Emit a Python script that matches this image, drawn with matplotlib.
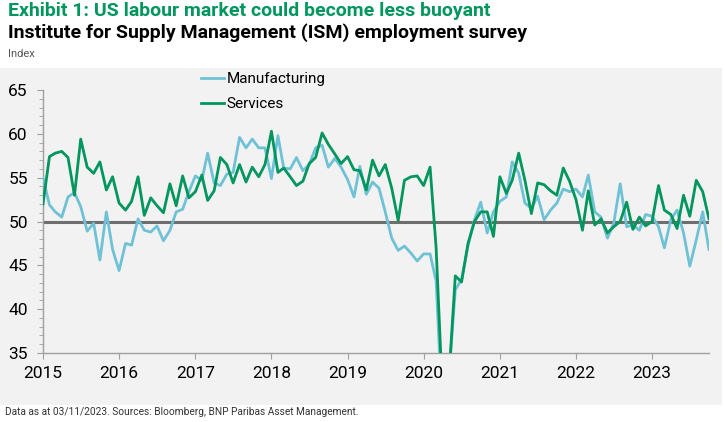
import numpy as np
import pandas as pd
import matplotlib.pyplot as plt
import matplotlib.dates as mdates
from matplotlib.patches import Rectangle
from matplotlib.ticker import MultipleLocator

plt.rcParams['font.family'] = ['Roboto', 'DejaVu Sans']

# Monthly ISM employment indices, Jan 2015 - Oct 2023
dates = pd.date_range('2015-01-01', periods=106, freq='MS')

manufacturing = [
    55.0, 51.9, 51.1, 50.5, 52.8, 53.3, 51.7, 48.9, 49.8, 45.6, 51.1, 46.8,
    44.4, 47.5, 47.3, 50.3, 49.0, 48.8, 49.5, 47.8, 49.0, 51.1, 51.4, 53.4,
    55.2, 54.7, 57.8, 54.4, 54.1, 55.4, 55.6, 59.6, 58.4, 59.4, 58.4, 58.4,
    54.9, 59.8, 56.1, 56.0, 57.3, 55.8, 56.5, 58.4, 58.7, 56.2, 57.2, 56.2,
    54.8, 52.8, 56.3, 53.1, 54.5, 53.8, 51.1, 48.1, 46.7, 47.2, 46.4, 45.5,
    46.3, 46.3, 43.2, 27.5, 32.1, 42.2, 43.4, 47.2, 50.2, 52.2, 48.7, 51.1,
    52.3, 52.8, 56.8, 55.5, 52.1, 51.5, 52.9, 50.2, 51.3, 52.1, 53.7, 53.4,
    53.7, 52.8, 55.3, 51.1, 50.5, 48.1, 49.8, 54.3, 49.4, 49.6, 49.0, 50.8,
    50.6, 49.4, 47.0, 50.2, 51.3, 48.7, 44.9, 47.9, 51.1, 46.8,
]

services = [
    52.0, 57.4, 57.8, 58.0, 57.3, 53.0, 59.4, 56.2, 55.5, 56.8, 53.6, 55.1,
    52.1, 51.3, 52.3, 55.1, 50.7, 52.7, 51.8, 51.0, 54.3, 51.8, 55.2, 52.7,
    53.4, 55.3, 52.4, 53.5, 57.3, 56.5, 54.4, 56.5, 54.5, 56.2, 55.1, 56.5,
    60.3, 55.6, 56.1, 55.1, 54.1, 54.6, 56.6, 57.3, 60.1, 58.8, 57.7, 56.6,
    57.4, 55.9, 55.8, 53.6, 57.0, 55.2, 56.5, 53.8, 50.1, 54.7, 55.1, 55.2,
    54.1, 56.2, 47.0, 30.0, 32.0, 43.8, 43.1, 47.5, 50.0, 51.1, 51.1, 48.3,
    55.1, 53.2, 54.7, 57.8, 54.7, 50.9, 54.4, 54.2, 53.5, 53.0, 56.1, 54.6,
    52.5, 49.0, 53.5, 49.6, 50.3, 48.7, 49.4, 50.0, 52.2, 49.1, 50.5, 49.5,
    50.0, 54.1, 51.3, 50.8, 49.2, 53.0, 50.6, 54.7, 53.4, 50.3,
]

GREEN = '#00965e'
BLUE = '#6fc2d6'
PANEL = '#f2f2f2'

fig = plt.figure(figsize=(7.25, 4.22), dpi=100)

# grey background panel behind the chart
fig.patches.append(Rectangle((0, 0.040), 0.996, 0.799, transform=fig.transFigure,
                             facecolor=PANEL, edgecolor='none', zorder=-1))

ax = fig.add_axes([0.0593, 0.1635, 0.9186, 0.6232])
ax.set_zorder(2)
ax.set_facecolor('none')

ax.plot(dates, manufacturing, color=BLUE, lw=2.0, label='Manufacturing', zorder=3)
ax.plot(dates, services, color=GREEN, lw=2.0, label='Services', zorder=4)
ax.axhline(50, color='#6e6e6e', lw=2.2, zorder=2)

ax.set_ylim(35, 65)
ax.set_xlim(dates[0], dates[-1])
ax.yaxis.set_major_locator(MultipleLocator(5))
ax.yaxis.set_minor_locator(MultipleLocator(1))
ax.xaxis.set_major_locator(mdates.YearLocator())
ax.xaxis.set_major_formatter(mdates.DateFormatter('%Y'))

for s in ['top', 'right']:
    ax.spines[s].set_visible(False)
for s in ['left', 'bottom']:
    ax.spines[s].set_color('#a0a0a0')
    ax.spines[s].set_linewidth(1.0)

ax.tick_params(axis='y', which='major', length=4, color='#a0a0a0', labelsize=12.5, pad=7)
ax.tick_params(axis='y', which='minor', length=3, color='#a0a0a0')
ax.tick_params(axis='x', which='major', length=4, color='#a0a0a0', labelsize=12.5, pad=5)

leg = ax.legend(loc='upper left', bbox_to_anchor=(0.228, 1.09), frameon=False,
                fontsize=11, handlelength=1.5, handletextpad=0.2, labelspacing=0.7,
                borderaxespad=0)

fig.text(0.011, 0.974, 'Exhibit 1: US labour market could become less buoyant',
         color=GREEN, fontsize=14, fontweight='bold', va='center')
fig.text(0.011, 0.922, 'Institute for Supply Management (ISM) employment survey',
         color='black', fontsize=14, fontweight='bold', va='center')
fig.text(0.011, 0.872, 'Index', color='#555555', fontsize=8, va='center')
fig.text(0.007, 0.023, 'Data as at 03/11/2023. Sources: Bloomberg, BNP Paribas Asset Management.',
         color='#333333', fontsize=7.3, va='center')

fig.savefig('out.png', dpi=100)
